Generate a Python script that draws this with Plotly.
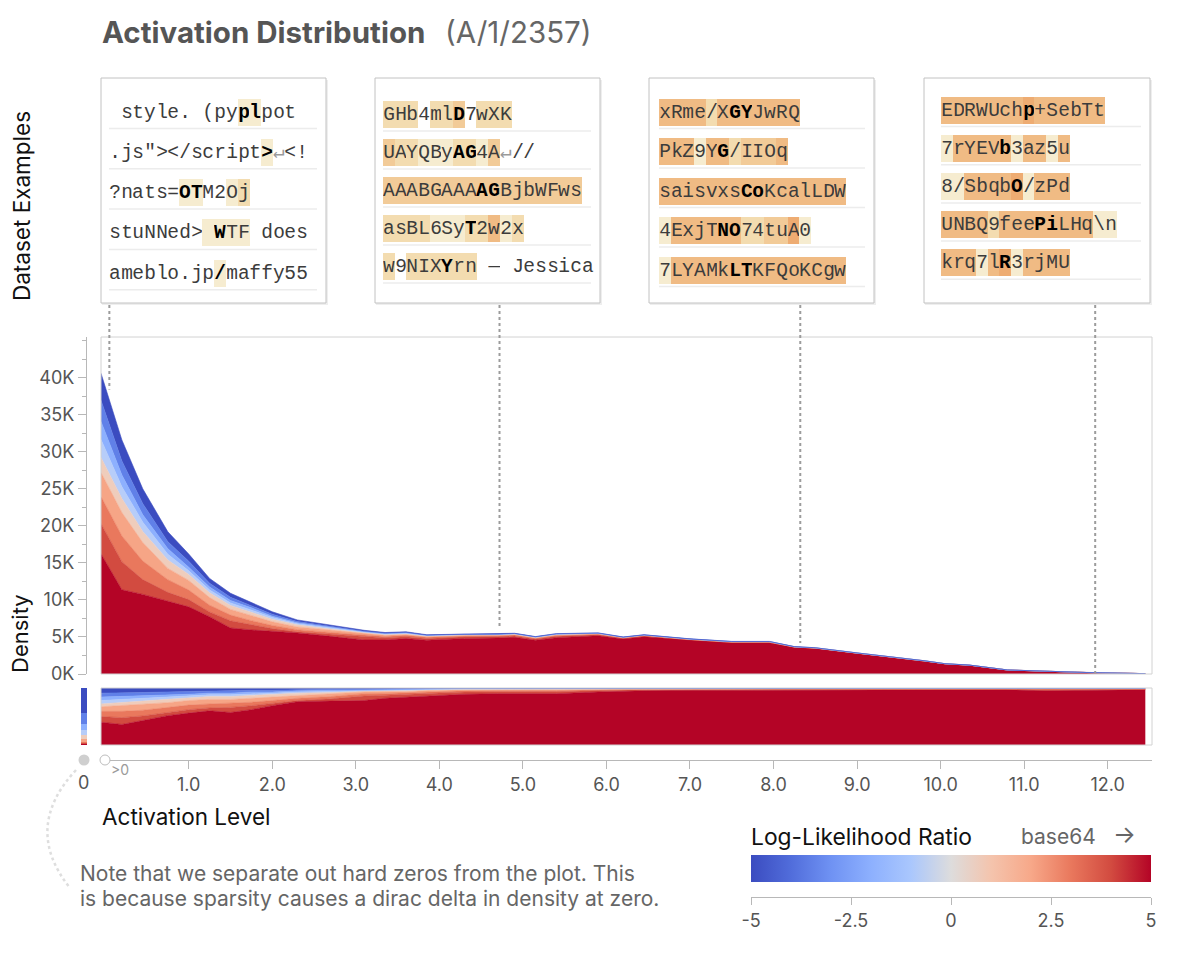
import html
import plotly.graph_objects as go

# page has an 8px body margin, so the figure is drawn 8px in from the window edge
OFF = 8
W, H = 1188 - 2 * OFF, 957 - 2 * OFF

# ---- activation histogram (density in thousands), bins along activation ----
activation = [-0.05, 0.2, 0.45, 0.75, 1.0, 1.25, 1.5, 1.75, 2.0, 2.3, 2.7, 3.1, 3.35, 3.6, 3.85,
              4.3, 4.7, 4.9, 5.15, 5.4, 5.9, 6.2, 6.45, 7.0, 7.5, 7.95, 8.25, 8.5, 9.0, 9.5,
              9.8, 10.05, 10.35, 10.8, 11.25, 11.75, 12.45]
density_k = [40.6, 31.6, 25.0, 19.2, 16.2, 12.9, 10.9, 9.6, 8.4, 7.3, 6.6, 5.9, 5.6, 5.7, 5.3,
             5.4, 5.4, 5.5, 5.05, 5.45, 5.55, 5.0, 5.3, 4.75, 4.4, 4.4, 3.7, 3.55, 2.85, 2.25,
             1.8, 1.4, 1.2, 0.55, 0.35, 0.2, 0.05]

# share (%) of each activation bin falling in each log-likelihood-ratio band
share_llr_p5 = [40, 36, 43, 52, 56, 60, 57, 62, 69, 76, 77, 78, 82, 84, 86,
                89, 90, 90, 90, 90, 93, 94.5, 95, 96, 96, 96, 97, 97, 97, 97,
                97, 97, 97, 97, 95, 96, 97]
share_llr_p4 = [10, 12, 8, 6, 6, 5, 9, 7, 4, 2, 4, 8, 5.5, 4.5, 4.5,
                4, 3.5, 3.5, 3.5, 3.5, 2.5, 2, 2, 1, 1, 1, 1, 1, 1, 1,
                1, 1, 1, 1, 1.5, 1.5, 1]
share_llr_p3 = [9, 11, 10, 9, 8, 7, 7, 6, 5, 4, 4, 4, 3, 3, 3,
                2, 2, 2, 2, 2, 1.5, 1, 1, 1, 1, 1, 0.5, 0.5, 0.5, 0.5,
                0.5, 0.5, 0.5, 0.5, 1, 1, 0.5]
share_llr_p2 = [8, 10, 10, 8, 8, 8, 7, 7, 6, 5, 4, 3, 3, 2, 2,
                2, 1.5, 1.5, 1.5, 1.5, 1, 1, 0.5, 0.5, 0.5, 0.5, 0.5, 0.5, 0.5, 0.5,
                0.5, 0.5, 0.5, 0.5, 1, 0.5, 0.5]
share_llr_p075 = [5, 6, 6, 6, 5, 5, 5, 5, 4, 4, 3, 2, 2, 2, 1.5,
                  1, 1, 1, 1, 1, 0.5, 0.5, 0.5, 0.5, 0.5, 0.5, 0.5, 0.5, 0.5, 0.5,
                  0.5, 0.5, 0.5, 0.5, 0.5, 0.5, 0.5]
share_llr_m075 = [6, 5, 5, 4, 3, 3, 3, 3, 3, 2, 2, 1, 1, 1, 1,
                  0.5, 0.5, 0.5, 0.5, 0.5, 0.5, 0.5, 0.5, 0.5, 0.5, 0.5, 0, 0, 0, 0,
                  0, 0, 0, 0, 0.5, 0, 0]
share_llr_m2 = [6, 5, 4, 4, 3, 3, 3, 3, 2, 2, 2, 1, 1, 1, 0.5,
                0.5, 0.5, 0.5, 0.5, 0.5, 0, 0, 0, 0, 0, 0, 0, 0, 0, 0,
                0, 0, 0, 0, 0, 0, 0]
share_llr_m35 = [7, 6, 6, 5, 5, 4, 4, 3, 3, 2, 2, 1, 1, 1, 0.5,
                 0.5, 0.5, 0.5, 0.5, 0.5, 0.5, 0, 0, 0, 0, 0, 0, 0, 0, 0,
                 0, 0, 0, 0, 0, 0, 0]
share_llr_m5 = [9, 9, 8, 7, 6, 5, 5, 4, 4, 3, 2, 2, 1.5, 1.5, 1,
                0.5, 0.5, 0.5, 0.5, 0.5, 0.5, 0.5, 0.5, 0.5, 0.5, 0.5, 0.5, 0.5, 0.5, 0.5,
                0.5, 0.5, 0.5, 0.5, 0.5, 0.5, 0.5]

# hard zeros (activation == 0), same bands, bottom -> top
zero_bar_share = [2, 2, 2, 4, 8, 8, 10, 21, 43]

band_names = ["LLR +5", "LLR +4", "LLR +3", "LLR +2", "LLR +0.75",
              "LLR -0.75", "LLR -2", "LLR -3.5", "LLR -5"]
band_colors = ["#b40426", "#d24b40", "#e9785d", "#f6a586", "#efcdbc",
               "#b7cdf9", "#8db0fe", "#6080e8", "#3b4cc0"]
band_shares = [share_llr_p5, share_llr_p4, share_llr_p3, share_llr_p2, share_llr_p075,
               share_llr_m075, share_llr_m2, share_llr_m35, share_llr_m5]

llr_ticks = [-5, -2.5, 0, 2.5, 5]
llr_labels = ["-5", "-2.5", "0", "2.5", "5"]
x_ticks = [1, 2, 3, 4, 5, 6, 7, 8, 9, 10, 11, 12]
y_ticks = [0, 5, 10, 15, 20, 25, 30, 35, 40]
y_labels = ["0K", "5K", "10K", "15K", "20K", "25K", "30K", "35K", "40K"]

# dataset examples shown above the histogram, and where they sit on it
example_activation = [0.05, 4.72, 8.32, 11.85]
example_density_k = [38.4, 6.2, 4.2, 0.1]

box1_text = [" style. (pyplpot", '.js"></script>↵<!', "?nats=OTM2Oj", "stuNNed> WTF does", "ameblo.jp/maffy55"]
box1_level = ["0000000000011000", "00000000000001000", "000000110012", "00000000111100000", "00000000010000000"]
box1_bold = [(11, 12), (13,), (6, 7), (9,), (9,)]

box2_text = ["GHb4mlD7wXK", "UAYQByAG4A↵//", "AAABGAAAAGBjbWFws", "asBL6SyT2w2x", "w9NIXYrn — Jessica"]
box2_level = ["22202230222", "3221112213000", "33333333333333333", "222211122412", "202222220000000000"]
box2_bold = [(6,), (6, 7), (8, 9), (7,), (5,)]

box3_text = ["xRme/XGYJwRQ", "PkZ9YG/IIOq", "saisvxsCoKcalLDW", "4ExjTNO74tuA0", "7LYAMkLTKFQoKCgw"]
box3_level = ["444424444444", "44414423334", "4444444444444444", "1444444223351", "1444444444444444"]
box3_bold = [(6, 7), (5,), (7, 8), (5, 6), (6, 7)]

box4_text = ["EDRWUchp+SebTt", "7rYEVb3az5u", "8/SbqbO/zPd", "UNBQ9feePiLHq\\n", "krq7lR3rjMU"]
box4_level = ["44444445444444", "14444414414", "11444451444", "444424444444411", "44414514444"]
box4_bold = [(7,), (5,), (6,), (8, 9), (5,)]

COOLWARM = [[0.0, "#3b4cc0"], [0.1, "#516ddb"], [0.2, "#6f92f3"], [0.3, "#8db0fe"],
            [0.4, "#aac7fd"], [0.5, "#dddcdc"], [0.6, "#f4c4ad"], [0.7, "#f7a889"],
            [0.8, "#e9785d"], [0.9, "#d24b40"], [1.0, "#b40426"]]
LEVEL_COLORS = ["rgba(0,0,0,0)", "#f6ecd0", "#f3dcb0", "#f2cb98", "#f0bb84", "#eeac72"]
SANS = "Inter, Roboto, sans-serif"
MONO = "Liberation Mono, DejaVu Sans Mono, monospace"
CW = 11.7  # monospace advance at 19.5px


def px(x):
    return (x - OFF) / W


def py(y):
    return 1 - (y - OFF) / H


# plot geometry (window pixels)
PLOT_L, PLOT_R = 101, 1152
MAIN_T, MAIN_B = 337, 674
STRIP_T, STRIP_B = 688, 745
Y_MAX = 45.5

fig = go.Figure()

share_total = [sum(col) for col in zip(*band_shares)]
for name, color, share in zip(band_names, band_colors, band_shares):
    y_main = [s / t * d for s, t, d in zip(share, share_total, density_k)]
    fig.add_trace(go.Scatter(
        x=activation, y=y_main, name=name, stackgroup="main", mode="lines",
        line=dict(width=0.6, color=color), fillcolor=color,
        xaxis="x", yaxis="y", hoverinfo="skip", showlegend=False))
for name, color, share in zip(band_names, band_colors, band_shares):
    fig.add_trace(go.Scatter(
        x=activation, y=share, name=name, stackgroup="strip", groupnorm="percent", mode="lines",
        line=dict(width=0.6, color=color), fillcolor=color,
        xaxis="x2", yaxis="y2", hoverinfo="skip", showlegend=False))
for name, color, val in zip(band_names, band_colors, zero_bar_share):
    fig.add_trace(go.Bar(
        x=[0], y=[val], name=name, marker=dict(color=color, line=dict(width=0)),
        xaxis="x4", yaxis="y4", hoverinfo="skip", showlegend=False, width=1))

# carrier for the log-likelihood colour bar
fig.add_trace(go.Scatter(
    x=[llr_ticks[0], llr_ticks[-1]], y=[0, 0], mode="markers", xaxis="x5", yaxis="y5",
    hoverinfo="skip", showlegend=False,
    marker=dict(color=[llr_ticks[0], llr_ticks[-1]], colorscale=COOLWARM, cmin=-5, cmax=5,
                size=1, opacity=0, showscale=True,
                colorbar=dict(orientation="h", x=px(950.5), xanchor="center",
                              y=py(882), yanchor="bottom", len=400, lenmode="pixels",
                              thickness=27, thicknessmode="pixels", outlinewidth=0,
                              showticklabels=False, ticks="", xpad=0, ypad=0))))

axis_grey = "#b8b8b8"
tick_font = dict(family=SANS, size=18, color="#555")

fig.update_layout(
    template="none",
    width=W, height=H, autosize=False,
    margin=dict(l=0, r=0, t=0, b=0, pad=0, autoexpand=False),
    paper_bgcolor="white", plot_bgcolor="white",
    barmode="stack", bargap=0,
    xaxis=dict(domain=[px(PLOT_L), px(PLOT_R)], range=[-0.05, 12.53], visible=False, anchor="y"),
    yaxis=dict(domain=[py(MAIN_B), py(MAIN_T)], range=[0, Y_MAX], anchor="free", position=px(86),
               showline=True, linecolor=axis_grey, linewidth=1, ticks="outside", ticklen=8,
               tickcolor=axis_grey, tickvals=y_ticks, ticktext=y_labels, tickfont=tick_font,
               showgrid=False, zeroline=False, automargin=False,
               minor=dict(dtick=2.5, tick0=0, ticks="outside", ticklen=4, tickcolor=axis_grey,
                          showgrid=False)),
    xaxis2=dict(domain=[px(PLOT_L), px(PLOT_R)], matches="x", anchor="free", position=py(760),
                showline=True, linecolor=axis_grey, linewidth=1, ticks="outside", ticklen=8,
                tickcolor=axis_grey, tickvals=x_ticks, tickformat=".1f", tickfont=tick_font,
                showgrid=False, zeroline=False, automargin=False),
    yaxis2=dict(domain=[py(STRIP_B), py(STRIP_T)], range=[0, 100], visible=False, anchor="x2"),
    xaxis4=dict(domain=[px(81), px(87)], range=[-0.5, 0.5], visible=False, anchor="y4"),
    yaxis4=dict(domain=[py(STRIP_B), py(STRIP_T)], range=[0, 100], visible=False, anchor="x4"),
    xaxis5=dict(domain=[px(751), px(1151)], range=[-5, 5], anchor="free", position=py(897),
                showline=True, linecolor=axis_grey, linewidth=1, ticks="outside", ticklen=7,
                tickcolor=axis_grey, tickvals=llr_ticks, ticktext=llr_labels,
                tickfont=tick_font, showgrid=False, zeroline=False, automargin=False),
    yaxis5=dict(domain=[0.0, 0.02], visible=False, anchor="x5"),
)

shapes = []
annotations = []

# frames around the histogram and the normalised strip
shapes.append(dict(type="rect", xref="x domain", yref="y domain", x0=0, x1=1, y0=0, y1=1,
                   line=dict(color="#d2d2d2", width=1)))
shapes.append(dict(type="rect", xref="x2 domain", yref="y2 domain", x0=0, x1=1, y0=0, y1=1,
                   line=dict(color="#d2d2d2", width=1)))

# hard-zero marker and >0 marker on the activation axis
shapes.append(dict(type="circle", xref="paper", yref="paper", x0=px(78.5), x1=px(89.5),
                   y0=py(765.5), y1=py(754.5), fillcolor="#cfcfcf", line=dict(width=0)))
shapes.append(dict(type="circle", xref="paper", yref="paper", x0=px(100), x1=px(110),
                   y0=py(765), y1=py(755), fillcolor="white", line=dict(color="#bdbdbd", width=1)))
shapes.append(dict(type="path", xref="paper", yref="paper",
                   path=f"M {px(76)} {py(770)} Q {px(22)} {py(828)} {px(70)} {py(888)}",
                   line=dict(color="#dedede", width=2.5, dash="dot")))

# example boxes
box_left = [101, 375, 649, 924]
box_right = [326, 600, 874, 1150]
text_left = [109, 383, 659, 941]
row_y0 = [112, 114.5, 112, 110]
row_step = [40.3, 38, 39.5, 38.2]
boxes = [(box1_text, box1_level, box1_bold), (box2_text, box2_level, box2_bold),
         (box3_text, box3_level, box3_bold), (box4_text, box4_level, box4_bold)]

for b, (texts, levels, bolds) in enumerate(boxes):
    shapes.append(dict(type="rect", xref="paper", yref="paper",
                       x0=px(box_left[b] + 1), x1=px(box_right[b] + 2), y0=py(305), y1=py(80),
                       fillcolor="#eeeeee", line=dict(width=0)))
    shapes.append(dict(type="rect", xref="paper", yref="paper",
                       x0=px(box_left[b]), x1=px(box_right[b]), y0=py(303), y1=py(78),
                       fillcolor="white", line=dict(color="#c2c2c2", width=1)))
    for r, (txt, lev, bold) in enumerate(zip(texts, levels, bolds)):
        yc = row_y0[b] + r * row_step[b]
        shapes.append(dict(type="line", xref="paper", yref="paper",
                           x0=px(text_left[b]), x1=px(box_right[b] - 9),
                           y0=py(yc + 16.5), y1=py(yc + 16.5),
                           line=dict(color="#ececec", width=1.5)))
        for i, ch in enumerate(txt):
            lv = int(lev[i])
            if ch == " " and lv == 0:
                continue
            label = "\u00a0" if ch == " " else html.escape(ch, quote=False)
            if i in bold:
                label = f"<b>{label}</b>"
                color = "#000"
            elif ch == "↵":
                color = "#9a9a9a"
            else:
                color = "#3c3c3c"
            annotations.append(dict(
                x=px(text_left[b] + (i + 0.5) * CW), y=py(yc), xref="paper", yref="paper",
                text=label, showarrow=False, xanchor="center", yanchor="middle",
                width=CW + 0.4, height=27, bgcolor=LEVEL_COLORS[lv], borderpad=0, borderwidth=0,
                font=dict(family=MONO, size=19.5, color=color)))

# dotted leaders from each example box down to its activation
for act, dens in zip(example_activation, example_density_k):
    y_end = py(MAIN_B) + dens / Y_MAX * (py(MAIN_T) - py(MAIN_B))
    shapes.append(dict(type="line", xref="x", yref="paper", x0=act, x1=act,
                       y0=py(305), y1=y_end, line=dict(color="#9c9c9c", width=2, dash="dot")))

# text
annotations += [
    dict(x=px(100), y=py(32), text="<b>Activation Distribution</b>", xanchor="left",
         font=dict(family=SANS, size=29.5, color="#555")),
    dict(x=px(443), y=py(32), text="(A/1/2357)", xanchor="left",
         font=dict(family=SANS, size=29.5, color="#666")),
    dict(x=px(21), y=py(206), text="Dataset Examples", textangle=-90,
         font=dict(family=SANS, size=22.5, color="#111")),
    dict(x=px(20), y=py(634), text="Density", textangle=-90,
         font=dict(family=SANS, size=22, color="#111")),
    dict(x=px(84), y=py(782), text="0", font=tick_font),
    dict(x=px(120), y=py(769), text=">0", font=dict(family=SANS, size=14, color="#9a9a9a")),
    dict(x=px(100), y=py(816), text="Activation Level", xanchor="left",
         font=dict(family=SANS, size=22.5, color="#111")),
    dict(x=px(78), y=py(873), text="Note that we separate out hard zeros from the plot. This",
         xanchor="left", font=dict(family=SANS, size=21, color="#666")),
    dict(x=px(78), y=py(898), text="is because sparsity causes a dirac delta in density at zero.",
         xanchor="left", font=dict(family=SANS, size=21, color="#666")),
    dict(x=px(749), y=py(836), text="Log-Likelihood Ratio", xanchor="left",
         font=dict(family=SANS, size=22.8, color="#111")),
    dict(x=px(1098), y=py(836), text="base64", xanchor="right",
         font=dict(family=SANS, size=21, color="#666")),
    dict(x=px(1138), y=py(834), text="→", xanchor="right",
         font=dict(family=SANS, size=24, color="#666")),
]
for a in annotations:
    a.setdefault("xref", "paper")
    a.setdefault("yref", "paper")
    a.setdefault("showarrow", False)
    a.setdefault("xanchor", "center")
    a.setdefault("yanchor", "middle")

fig.update_layout(shapes=shapes, annotations=annotations)

fig.write_html("out.html")
